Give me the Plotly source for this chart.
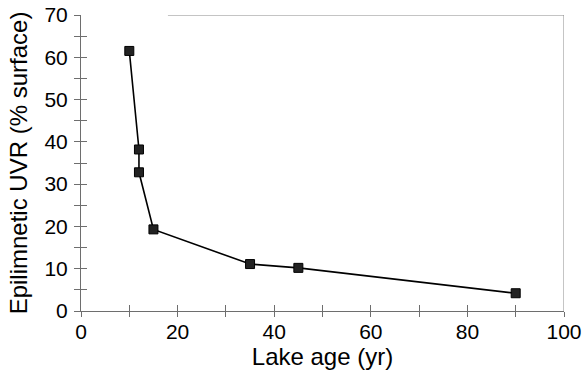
import plotly.graph_objects as go

lake_age = [10, 12, 12, 15, 35, 45, 90]
uvr = [61.5, 38.2, 32.8, 19.3, 11.1, 10.2, 4.2]

x_ticks = [0, 20, 40, 60, 80, 100]
y_ticks = [0, 10, 20, 30, 40, 50, 60, 70]

FONT = "Liberation Sans, Arial, Helvetica, sans-serif"
AX = "#6e6e6e"

fig = go.Figure()
fig.add_trace(go.Scatter(
    x=lake_age, y=uvr, mode="lines+markers",
    line=dict(color="black", width=1.6),
    marker=dict(symbol="square", size=9, color="#222222",
                line=dict(color="black", width=1)),
    showlegend=False, hoverinfo="skip"))
fig.add_trace(go.Scatter(x=[None], y=[None], xaxis="x2", yaxis="y2",
                         showlegend=False, hoverinfo="skip"))

common_x = dict(range=[0, 100], tickvals=x_ticks, showgrid=False, zeroline=False, automargin=False)
common_y = dict(range=[0, 70], tickvals=y_ticks, showgrid=False, zeroline=False, automargin=False)

fig.update_layout(
    width=584, height=375,
    margin=dict(l=81, r=20, t=15, b=64),
    paper_bgcolor="white", plot_bgcolor="white",
    font=dict(family=FONT, size=21, color="black"),
    xaxis=dict(**common_x, showline=True, linecolor=AX, linewidth=1,
               ticks="inside", ticklen=6, tickcolor=AX, tickwidth=1,
               minor=dict(dtick=10, ticks="inside", ticklen=6, tickcolor=AX),
               ticklabelstandoff=2,
               title=dict(text="Lake age (yr)", font=dict(size=24), standoff=2)),
    yaxis=dict(**common_y, showline=True, linecolor=AX, linewidth=1,
               ticks="inside", ticklen=6, tickcolor=AX, tickwidth=1,
               minor=dict(dtick=5, ticks="inside", ticklen=6, tickcolor=AX),
               ticklabelstandoff=8,
               title=dict(text="Epilimnetic UVR (% surface)", font=dict(size=24), standoff=10)),
    xaxis2=dict(**common_x, overlaying="x", anchor="y2", side="bottom",
                showline=False, showticklabels=False,
                ticks="outside", ticklen=5, tickcolor=AX,
                minor=dict(dtick=10, ticks="outside", ticklen=5, tickcolor=AX)),
    yaxis2=dict(**common_y, overlaying="y", anchor="x2", side="left",
                showline=False, showticklabels=False,
                ticks="outside", ticklen=6, tickcolor=AX,
                minor=dict(dtick=5, ticks="outside", ticklen=6, tickcolor=AX)),
    shapes=[
        dict(type="line", xref="x", yref="y", x0=18, x1=100, y0=70, y1=70,
             line=dict(color="#8a8a8a", width=1)),
        dict(type="line", xref="x", yref="y", x0=100, x1=100, y0=0, y1=70,
             line=dict(color="#8a8a8a", width=1)),
    ],
)

fig.write_html("out.html", config={"displayModeBar": False},
               post_script="document.body.style.margin='0';document.body.style.overflow='hidden';")
